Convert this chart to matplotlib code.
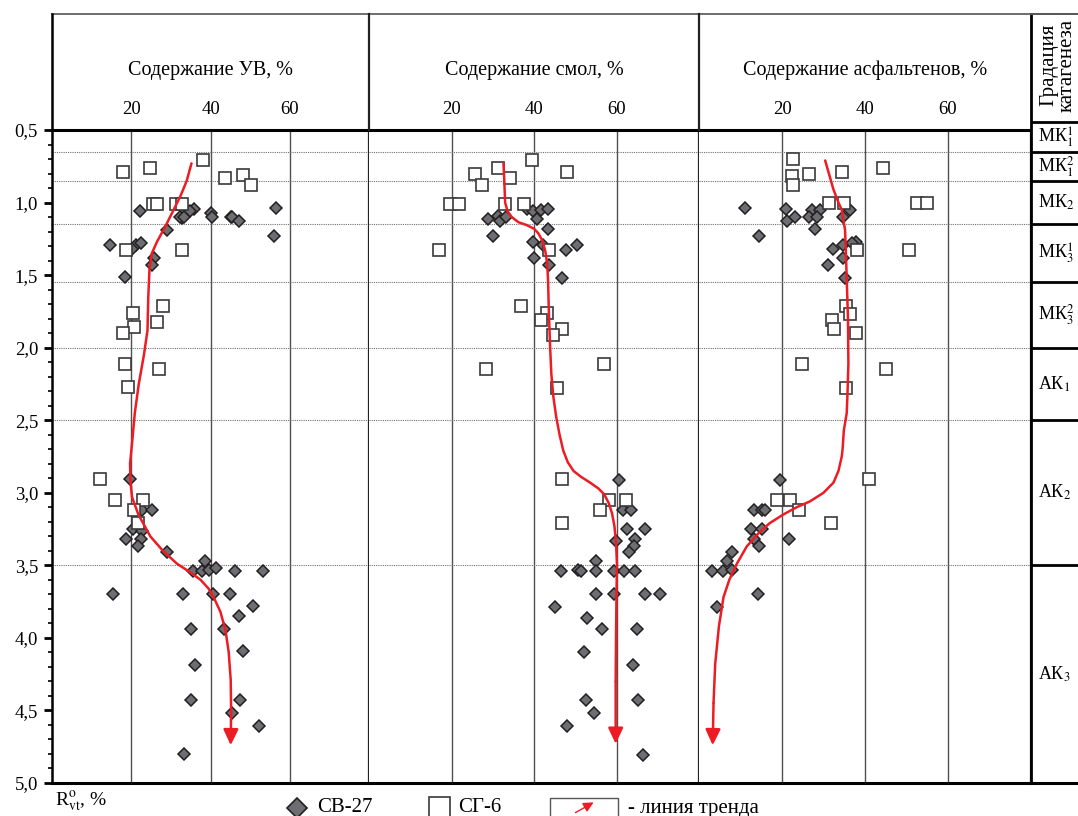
import numpy as np
import matplotlib
matplotlib.use("Agg")
import matplotlib.pyplot as plt
from matplotlib.lines import Line2D
from matplotlib.patches import Rectangle, FancyArrowPatch

plt.rcParams['font.family'] = ['Liberation Serif', 'DejaVu Serif']
plt.rcParams['mathtext.fontset'] = 'stix'

# --- данные: (содержание, %; R°vt, %) ---
titles = ["Содержание УВ, %", "Содержание смол, %", "Содержание асфальтенов, %"]

uv_sg6 = [(38.1, 0.71), (18.0, 0.79), (24.7, 0.76), (43.6, 0.83), (48.1, 0.81), (50.3, 0.88),
          (25.5, 1.01), (26.5, 1.01), (31.4, 1.01), (32.7, 1.01), (18.7, 1.33), (32.8, 1.33),
          (28.0, 1.71), (20.5, 1.76), (26.6, 1.82), (20.8, 1.86), (18.0, 1.90), (18.3, 2.11),
          (27.0, 2.15), (19.2, 2.27), (12.2, 2.905), (15.8, 3.05), (23.0, 3.05), (20.6, 3.12),
          (21.6, 3.21)]
uv_sv27 = [(22.1, 1.06), (56.5, 1.04), (35.8, 1.045), (34.8, 1.06), (32.8, 1.105), (32.2, 1.10),
           (33.2, 1.10), (40.0, 1.075), (40.4, 1.10), (45.1, 1.10), (45.5, 1.10), (47.3, 1.13),
           (55.9, 1.23), (28.9, 1.19), (14.7, 1.29), (21.3, 1.29), (22.5, 1.28), (20.2, 1.32),
           (25.8, 1.38), (25.2, 1.43), (18.3, 1.51),
           (19.6, 2.905), (22.7, 3.12), (25.2, 3.12), (20.4, 3.25), (22.7, 3.26), (18.6, 3.32),
           (22.5, 3.32), (21.6, 3.37), (29.0, 3.41), (38.6, 3.47), (35.6, 3.54), (37.9, 3.54),
           (39.6, 3.53), (41.5, 3.52), (46.2, 3.54), (53.3, 3.54), (15.5, 3.70), (33.1, 3.70),
           (40.7, 3.70), (44.8, 3.70), (50.8, 3.78), (47.3, 3.85), (35.0, 3.94), (43.5, 3.94),
           (48.1, 4.09), (36.0, 4.19), (35.0, 4.43), (47.5, 4.43), (45.5, 4.52), (52.2, 4.61),
           (33.3, 4.80)]
uv_trend = [(35.2, 0.73), (34.0, 0.85), (32.5, 0.95), (30.7, 1.05), (28.5, 1.17), (26.5, 1.27),
            (25.2, 1.35), (24.6, 1.46), (24.3, 1.65), (24.1, 1.88), (23.2, 2.05), (21.9, 2.25),
            (20.9, 2.45), (20.2, 2.66), (19.7, 2.80), (19.8, 2.92), (20.2, 3.03), (21.8, 3.15),
            (24.8, 3.30), (28.0, 3.40), (31.6, 3.49), (35.0, 3.55), (37.5, 3.60), (39.5, 3.66),
            (40.8, 3.72), (42.5, 3.82), (43.8, 3.95), (44.6, 4.10), (45.1, 4.29), (45.2, 4.50),
            (45.1, 4.74)]

sm_sg6 = [(39.5, 0.71), (31.2, 0.76), (25.6, 0.80), (34.2, 0.83), (27.5, 0.88), (47.9, 0.79),
          (19.6, 1.01), (21.8, 1.01), (33.0, 1.01), (37.6, 1.01), (16.9, 1.33), (43.6, 1.33),
          (36.8, 1.71), (43.2, 1.76), (41.6, 1.81), (46.7, 1.87), (44.5, 1.91), (28.3, 2.15),
          (57.0, 2.11), (45.6, 2.28), (46.9, 2.905), (58.3, 3.05), (62.3, 3.05), (55.9, 3.12),
          (46.9, 3.21)]
sm_sv27 = [(28.8, 1.11), (31.2, 1.09), (31.8, 1.13), (33.2, 1.10), (30.0, 1.23), (38.2, 1.045),
           (39.7, 1.06), (41.6, 1.05), (43.4, 1.045), (40.8, 1.11), (43.4, 1.18), (39.8, 1.27),
           (42.1, 1.29), (47.7, 1.33), (50.5, 1.29), (39.9, 1.38), (43.7, 1.43), (46.7, 1.52),
           (60.7, 2.91), (61.5, 3.12), (63.4, 3.12), (62.5, 3.25), (67.0, 3.25), (59.9, 3.33),
           (64.4, 3.32), (64.2, 3.37), (63.1, 3.41), (55.1, 3.47), (46.6, 3.54), (50.7, 3.53),
           (51.5, 3.54), (55.1, 3.54), (59.3, 3.54), (61.8, 3.54), (64.5, 3.54), (55.1, 3.70),
           (59.5, 3.70), (67.0, 3.70), (70.5, 3.70), (45.1, 3.79), (52.9, 3.86), (56.5, 3.94),
           (64.9, 3.94), (52.2, 4.10), (63.9, 4.19), (52.5, 4.43), (65.2, 4.43), (54.6, 4.52),
           (48.0, 4.61), (66.5, 4.81)]
sm_trend = [(32.6, 0.73), (32.8, 0.85), (33.0, 1.0), (33.6, 1.06), (34.6, 1.10), (36.2, 1.135),
            (38.2, 1.155), (40.0, 1.18), (41.0, 1.21), (42.0, 1.26), (42.7, 1.33), (43.2, 1.42),
            (43.4, 1.53), (43.6, 1.75), (43.9, 1.99), (44.2, 2.18), (44.7, 2.34), (45.4, 2.48),
            (46.2, 2.60), (47.1, 2.71), (48.2, 2.79), (49.6, 2.85), (51.4, 2.89), (53.6, 2.93),
            (55.6, 2.97), (57.0, 3.01), (58.1, 3.07), (58.9, 3.14), (59.5, 3.23), (59.9, 3.35),
            (60.1, 3.49), (60.0, 3.70), (59.9, 3.95), (59.8, 4.30), (59.8, 4.73)]

as_sg6 = [(22.7, 0.70), (22.4, 0.82), (22.7, 0.88), (26.4, 0.80), (34.4, 0.79), (44.4, 0.76),
          (31.3, 1.0), (34.9, 1.0), (52.5, 1.0), (54.9, 1.0), (38.1, 1.33), (50.6, 1.33),
          (35.4, 1.71), (36.5, 1.77), (32.0, 1.81), (32.5, 1.87), (37.8, 1.90), (24.8, 2.11),
          (45.1, 2.15), (35.4, 2.28), (41.0, 2.905), (18.7, 3.05), (21.9, 3.05), (24.0, 3.12),
          (31.7, 3.21)]
as_sv27 = [(11.0, 1.04), (14.4, 1.23), (21.0, 1.045), (21.3, 1.13), (23.2, 1.10), (27.2, 1.05),
           (29.2, 1.05), (26.4, 1.10), (28.4, 1.10), (28.0, 1.18), (34.8, 1.10), (36.4, 1.05),
           (34.8, 1.29), (37.8, 1.27), (36.8, 1.28), (32.2, 1.32), (34.6, 1.38), (31.2, 1.43),
           (35.2, 1.52),
           (19.5, 2.91), (13.3, 3.12), (15.3, 3.12), (15.9, 3.12), (12.5, 3.25), (15.2, 3.25),
           (13.3, 3.32), (21.6, 3.32), (14.5, 3.37), (7.9, 3.41), (6.7, 3.47), (3.1, 3.54),
           (5.7, 3.54), (7.9, 3.53), (14.1, 3.70), (4.4, 3.79)]
as_trend = [(30.4, 0.71), (31.3, 0.80), (32.4, 0.91), (33.6, 1.00), (34.4, 1.05), (35.2, 1.19),
            (35.4, 1.35), (35.6, 1.53), (35.9, 1.80), (36.0, 2.11), (35.8, 2.30), (35.6, 2.45),
            (34.9, 2.57), (34.6, 2.70), (34.4, 2.75), (33.6, 2.85), (32.4, 2.93), (30.0, 3.00),
            (26.7, 3.06), (23.5, 3.10), (20.3, 3.15), (17.0, 3.21), (14.3, 3.28), (11.5, 3.37),
            (9.1, 3.49), (7.3, 3.60), (5.9, 3.72), (4.8, 3.92), (3.9, 4.18), (3.5, 4.45),
            (3.3, 4.74)]

zone_edges = [0.445, 0.65, 0.85, 1.15, 1.55, 2.0, 2.5, 3.5, 5.0]
zone_labels = ["МК$_1^1$", "МК$_1^2$", "МК$_2$", "МК$_3^1$", "МК$_3^2$", "АК$_1$", "АК$_2$", "АК$_3$"]

panels = [(uv_sv27, uv_sg6, uv_trend), (sm_sv27, sm_sg6, sm_trend), (as_sv27, as_sg6, as_trend)]

# --- разметка в пикселях ---
W, H = 1078, 816
def box(x0, y0, x1, y1):
    return [x0 / W, 1 - y1 / H, (x1 - x0) / W, (y1 - y0) / H]

edges = [52, 369, 699, 1031]
top, bottom = 130, 783
red = '#ed1c24'

fig = plt.figure(figsize=(W / 100, H / 100), dpi=100)

for i, (sv, sg, tr) in enumerate(panels):
    ax = fig.add_axes(box(edges[i], top, edges[i + 1], bottom))
    ax.set_xlim(0, 80)
    ax.set_ylim(5.0, 0.5)
    for g in [20, 40, 60]:
        ax.axvline(g, color='#505050', lw=1.0, zorder=1)
    for z in zone_edges[1:-1]:
        ax.axhline(z, color='#707070', lw=0.8, ls=(0, (1, 1)), zorder=1)

    x, y = zip(*sv)
    ax.plot(x, y, ls='none', marker='D', ms=6.0, mfc='#6d6e71', mec='#231f20', mew=1.1, zorder=3)
    x, y = zip(*sg)
    ax.plot(x, y, ls='none', marker='s', ms=8.3, mfc='white', mec='#3a3a3a', mew=1.2, zorder=4)
    x, y = zip(*tr)
    ax.plot(x[:-1], y[:-1], color=red, lw=1.8, zorder=5, solid_capstyle='round')
    ax.annotate('', xy=(x[-1], y[-1]), xytext=(x[-2], y[-2]),
                arrowprops=dict(arrowstyle='-|>,head_length=0.95,head_width=0.45', color=red,
                                lw=1.8, shrinkA=0, shrinkB=0), zorder=5)

    ax.xaxis.tick_top()
    ax.set_xticks([20, 40, 60])
    ax.tick_params(axis='x', length=0, pad=9, labelsize=13.5)
    ax.text(0.5, 1 + 60 / (bottom - top), titles[i], transform=ax.transAxes,
            ha='center', va='center', fontsize=14.5)

    ax.spines['top'].set_linewidth(2.2)
    ax.spines['bottom'].set_linewidth(2.2)
    ax.spines['right'].set_linewidth(1.6)
    ax.spines['right'].set_color('#222222')
    if i == 0:
        ax.spines['left'].set_linewidth(1.8)
        ax.set_yticks(np.arange(0.5, 5.01, 0.5))
        ax.set_yticklabels([f"{v:.1f}".replace('.', ',') for v in np.arange(0.5, 5.01, 0.5)])
        ax.set_yticks(np.arange(0.5, 5.01, 0.1), minor=True)
        ax.tick_params(axis='y', which='major', length=6, width=2, labelsize=13.5, pad=4)
        ax.tick_params(axis='y', which='minor', length=3, width=1.2)
    else:
        ax.spines['left'].set_visible(False)
        ax.set_yticks([])

# правая колонка: градация катагенеза
y_top = 0.5 - (top - 14) / ((bottom - top) / 4.5)
axr = fig.add_axes(box(1031, 14, 1140, bottom))
axr.set_xlim(0, 1)
axr.set_ylim(5.0, y_top)
axr.set_xticks([])
axr.set_yticks([])
axr.spines['right'].set_visible(False)
axr.spines['left'].set_linewidth(2.0)
axr.spines['top'].set_linewidth(1.2)
axr.spines['top'].set_color('#555555')
axr.spines['bottom'].set_linewidth(2.2)
for z in zone_edges[:-1]:
    axr.axhline(z, color='black', lw=2.0)
for k, lab in enumerate(zone_labels):
    axr.text(0.06, (zone_edges[k] + zone_edges[k + 1]) / 2, lab,
             transform=axr.get_yaxis_transform(), ha='left', va='center', fontsize=13)
axr.text(0.25, 0.5 - (top - 65) / ((bottom - top) / 4.5), "Градация\nкатагенеза",
         rotation=90, ha='center', va='center', fontsize=15, linespacing=0.95)

# рамка шапки
def px_line(xs, ys, **kw):
    fig.add_artist(Line2D([v / W for v in xs], [1 - v / H for v in ys],
                          transform=fig.transFigure, **kw))

px_line([52, 1078], [14, 14], color='#555555', lw=1.2)
px_line([52, 52], [14, top], color='black', lw=1.8)
px_line([369, 369], [14, top], color='#222222', lw=1.6)
px_line([699, 699], [14, top], color='#222222', lw=1.6)

# подпись оси и легенда
fig.text(55 / W, 1 - 802 / H, "R$^{\\mathrm{o}}_{\\mathrm{vt}}$, %", fontsize=14, va='center')
fig.add_artist(Line2D([297 / W], [1 - 808 / H], transform=fig.transFigure, ls='none',
                      marker='D', ms=10, mfc='#6d6e71', mec='#231f20', mew=1.2))
fig.text(317 / W, 1 - 808 / H, "СВ-27", fontsize=15, va='center')
fig.add_artist(Rectangle((429 / W, 1 - 818 / H), 21 / W, 21 / H, transform=fig.transFigure,
                         facecolor='white', edgecolor='#3a3a3a', lw=1.2))
fig.text(458 / W, 1 - 808 / H, "СГ-6", fontsize=15, va='center')
fig.add_artist(Rectangle((550 / W, 1 - 818 / H), 68 / W, 20 / H, transform=fig.transFigure,
                         facecolor='white', edgecolor='#555555', lw=1.0))
fig.add_artist(FancyArrowPatch((573 / W, 1 - 814 / H), (596 / W, 1 - 801 / H),
                               transform=fig.transFigure,
                               arrowstyle='-|>,head_length=0.5,head_width=0.25',
                               color=red, lw=1.0, mutation_scale=12))
fig.text(628 / W, 1 - 808 / H, "- линия тренда", fontsize=15, va='center')

fig.savefig("out.png", dpi=100)
